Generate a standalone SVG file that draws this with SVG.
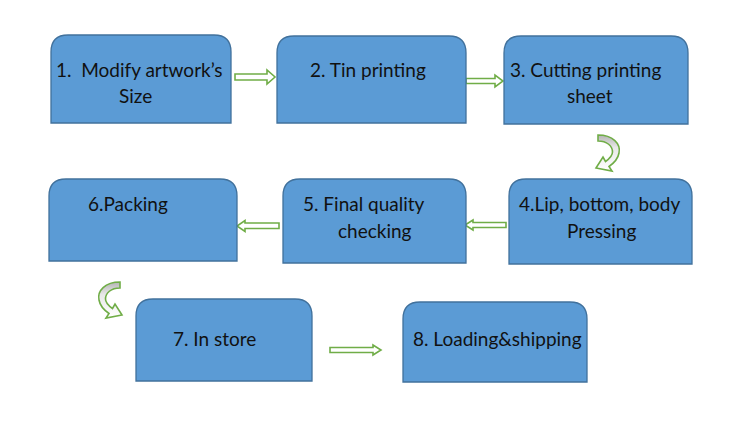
<svg xmlns="http://www.w3.org/2000/svg" width="750" height="427" viewBox="0 0 750 427">
<style>
.box{fill:#5B9BD5;stroke:#41719C;stroke-width:1.3}
.lbl{font-family:Lato,"Open Sans","Liberation Sans",sans-serif;font-size:19px;fill:#111;white-space:pre}
.arr{fill:#fff;stroke:#70AD47;stroke-width:1.6;stroke-linejoin:miter}
.carr{fill:url(#cg);stroke:#70AD47;stroke-width:1.6;stroke-linejoin:miter}
</style>
<defs>
<linearGradient id="cg" x1="0" y1="0" x2="0" y2="1">
<stop offset="0" stop-color="#B4B4B4"/>
<stop offset="0.35" stop-color="#E8E8E8"/>
<stop offset="1" stop-color="#FFFFFF"/>
</linearGradient>
<path id="curve" d="M598,135 C613,135 621,144 619,153 C618,159 614,163 609,166.5 L612,171 L596,168 L603,157 L605.5,161.5 C609,159 612.5,156 612.5,152 C612.5,146 607,141 598,141 Z"/>
</defs>
<rect width="750" height="427" fill="#fff"/>
<g id="connectors">
<polygon class="arr" points="235,74 267,74 267,70 275,77 267,84 267,80 235,80"/>
<polygon class="arr" points="466,78.5 495,78.5 495,75 503,81 495,87 495,83.5 466,83.5"/>
<polygon class="arr" points="506,222.5 473,222.5 473,220 465,225 473,230 473,227.5 506,227.5"/>
<polygon class="arr" points="279,223 245,223 245,220.5 237,226 245,231.5 245,228.5 279,228.5"/>
<polygon class="arr" points="330,347.5 373,347.5 373,345 381,350 373,355 373,352.5 330,352.5"/>
<use href="#curve" class="carr"/>
<use href="#curve" class="carr" transform="translate(718,147) scale(-1,1)"/>
</g>
<g id="n1"><path class="box" d="M51,123 V52 Q51,35 68,35 H214 Q231,35 231,52 V123 Z"/>
<text class="lbl" x="56" y="77" xml:space="preserve">1.  Modify artwork’s</text><text class="lbl" x="119" y="103">Size</text></g>
<g id="n2"><path class="box" d="M277,123 V53 Q277,36 294,36 H449 Q466,36 466,53 V123 Z"/>
<text class="lbl" x="310" y="77">2. Tin printing</text></g>
<g id="n3"><path class="box" d="M504,124 V53 Q504,36 521,36 H671 Q688,36 688,53 V124 Z"/>
<text class="lbl" x="510" y="77">3. Cutting printing</text><text class="lbl" x="567" y="103">sheet</text></g>
<g id="n4"><path class="box" d="M509,264 V196 Q509,179 526,179 H675 Q692,179 692,196 V264 Z"/>
<text class="lbl" x="519" y="211">4.Lip, bottom, body</text><text class="lbl" x="567" y="238">Pressing</text></g>
<g id="n5"><path class="box" d="M283,263 V196 Q283,179 300,179 H449 Q466,179 466,196 V263 Z"/>
<text class="lbl" x="303" y="211">5. Final quality</text><text class="lbl" x="338" y="238">checking</text></g>
<g id="n6"><path class="box" d="M49,261 V196 Q49,179 66,179 H220 Q237,179 237,196 V261 Z"/>
<text class="lbl" x="88" y="211">6.Packing</text></g>
<g id="n7"><path class="box" d="M136,381 V316 Q136,299 153,299 H295 Q312,299 312,316 V381 Z"/>
<text class="lbl" x="173" y="346">7. In store</text></g>
<g id="n8"><path class="box" d="M403,382 V319 Q403,302 420,302 H570 Q587,302 587,319 V382 Z"/>
<text class="lbl" x="413" y="346">8. Loading&amp;shipping</text></g>
</svg>
